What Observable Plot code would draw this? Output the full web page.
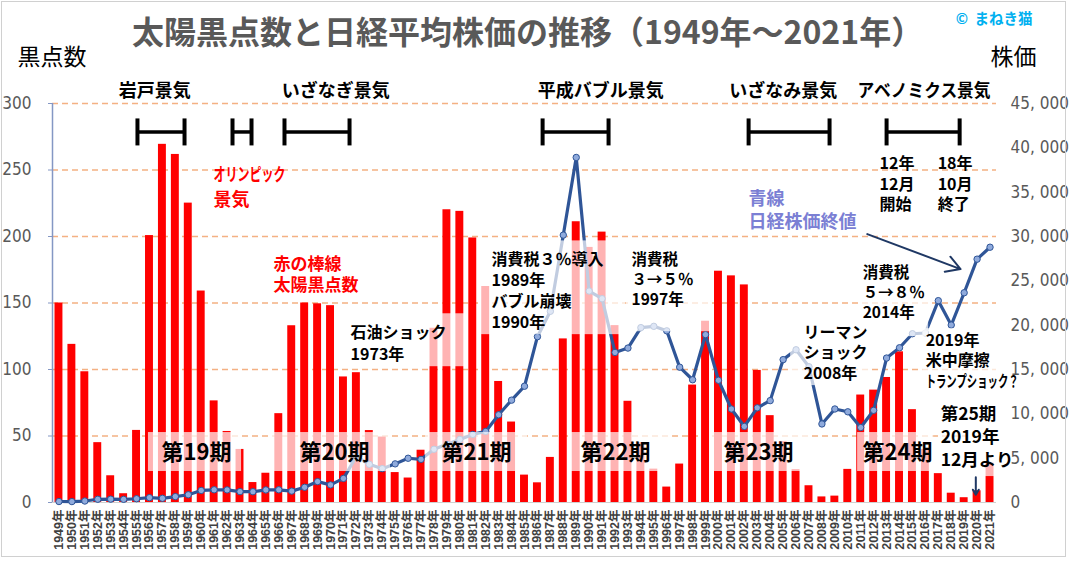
<!DOCTYPE html>
<html><head><meta charset="utf-8">
<script src="https://cdn.jsdelivr.net/npm/d3@7"></script>
<script src="https://cdn.jsdelivr.net/npm/@observablehq/plot@0.6"></script>
<style>
body{margin:0;background:#fff;}
#wrap{position:relative;width:1069px;height:562px;}
#border{position:absolute;left:1px;top:1px;width:1063px;height:554px;border:1px solid #d0d0d0;pointer-events:none;}
</style></head><body><div id="wrap"><div id="border"></div></div>
<script>
const years = d3.range(1949, 2022);
const sunspots = [150,118.9,98.3,45.0,20.1,6.6,54.2,200.7,269.3,261.7,225.1,159.0,76.4,53.4,39.9,15.0,22.0,66.8,132.9,150.0,149.4,148.0,94.4,97.6,54.1,49.2,22.5,18.4,39.3,131.0,220.1,218.9,198.9,162.4,91.0,60.5,20.6,14.8,33.9,123.0,211.1,191.8,203.3,133.0,76.1,44.9,25.1,11.6,28.9,88.3,136.3,173.9,170.4,163.6,99.3,65.3,45.8,24.7,12.6,4.2,4.8,24.9,80.8,84.5,94.0,113.3,69.8,39.8,21.7,7.0,3.6,8.8,29.6];
const nikkei = [109.91,101.91,166.06,362.64,377.95,356.09,425.69,549.14,474.55,666.54,874.88,1356.71,1432.60,1420.43,1225.10,1216.55,1417.83,1432.42,1283.47,1714.89,2358.96,1987.14,2713.74,5207.94,4306.80,3817.22,4358.60,4990.85,4865.60,6001.85,6569.47,7116.38,7681.84,8016.67,9893.82,11542.60,13113.32,18701.30,21564.00,30159.00,38915.87,23848.71,22983.77,16924.95,17417.24,19723.06,19868.15,19361.35,15258.74,13842.17,18934.34,13785.69,10542.62,8578.95,10676.64,11488.76,16111.43,17225.83,15307.78,8859.56,10546.44,10228.92,8455.35,10395.18,16291.31,17450.77,19033.71,19114.37,22764.94,20014.77,23656.62,27444.17,28791.71];
const leftTicks = [0,50,100,150,200,250,300];
const rightTicks = [0,5000,10000,15000,20000,25000,30000,35000,40000,45000];
const ratio = rightTicks[rightTicks.length-1] / leftTicks[leftTicks.length-1];

const booms = ["岩戸景気","いざなぎ景気","平成バブル景気","いざなみ景気","アベノミクス景気"];
const cycles = ["第19期","第20期","第21期","第22期","第23期","第24期"];

const spotData = years.map((y,i)=>({year:y, value:sunspots[i]}));
const priceData = years.map((y,i)=>({year:y, value:nikkei[i]/ratio}));

// annotation layout (x in years, y in left-axis units)
const boomLabelPos = [[1956.4,309.4],[1970.4,309.4],[1990.9,309.4],[2005.0,309.4],[2015.9,309.4]];
const brackets = [[1955.07,1958.71],[1962.42,1963.89],[1966.44,1971.47],[1986.40,1991.50],[2002.33,2008.59],[2013.0,2018.65]];
const cyclePos = [1959.64,1970.31,1981.29,1992.04,2003.10,2013.85];
const boxes = [
 [1955.92,1963.12,23.3,52.6],[1965.51,1974.64,23.3,52.6],[1977.35,1985.24,23.3,52.6],
 [1988.48,1996.45,23.3,52.6],[1999.54,2007.12,23.3,52.6],[2010.76,2016.64,23.3,52.6],
 [2017.33,2024.1,19.5,78.1],[1971.16,1980.52,102.1,141.9],[1981.60,1992.82,126.2,196.7],
 [1992.89,1999.54,128.4,189.2],[2005.58,2011.6,87.9,135.2],[2010.84,2016.25,124.7,183.2],
 [2015.79,2024.1,84.1,130.7]
].map(([x1,x2,y1,y2])=>({x1,x2,y1,y2}));

const blackNotes = [
 {x:1971.55,y:120.9,t:"石油ショック\n1973年",lh:1.38,fs:16},
 {x:1982.45,y:159.9,t:"消費税３％導入\n1989年\nバブル崩壊\n1990年",lh:1.3,fs:16},
 {x:1993.28,y:168.2,t:"消費税\n３→５％\n1997年",lh:1.3,fs:15.5},
 {x:2006.58,y:113.4,t:"リーマン\nショック\n2008年",lh:1.3,fs:16},
 {x:2011.15,y:158.4,t:"消費税\n５→８％\n2014年",lh:1.3,fs:15.5},
 {x:2016.02,y:107.4,t:"2019年\n米中摩擦\nトランプショック？",lh:1.3,fs:16},
 {x:2017.18,y:50.3,t:"第25期\n2019年\n12月より",lh:1.32,fs:17.5},
 {x:2012.46,y:240.3,t:"12年\n12月\n開始",lh:1.3,fs:16},
 {x:2016.95,y:240.3,t:"18年\n10月\n終了",lh:1.3,fs:16}
];
// horizontal squeeze of condensed (half-width style) strings, in px
const squeeze = {"オリンピック": 72, "アベノミクス景気": 133, "トランプショック？": 93};

const JP = "'Noto Sans CJK JP','Noto Sans',sans-serif";
const NARROW = "'Liberation Sans Narrow','DejaVu Sans Condensed',sans-serif";
const fmt = v => d3.format(",")(v).replace(",", ", ");

const x0 = years[0]-0.5, x1 = years[years.length-1]+0.5;

const chart = Plot.plot({
  width: 1069, height: 562,
  marginLeft: 52, marginRight: 73, marginTop: 103, marginBottom: 60,
  style: {fontFamily: JP, background: "transparent", overflow: "visible"},
  x: {type: "linear", domain: [x0, x1], axis: null},
  y: {domain: [leftTicks[0], leftTicks[leftTicks.length-1]], axis: null},
  marks: [
    Plot.ruleY(leftTicks.slice(1), {x1: x0, x2: x1, stroke: "#F4B183", strokeWidth: 1.3, strokeDasharray: "6,4"}),
    Plot.ruleY([0], {x1: x0, x2: x1, stroke: "#D0D0D0"}),
    Plot.rectY(spotData, {x1: d=>d.year-0.5, x2: d=>d.year+0.5, y: "value", fill: "#FF0000", insetLeft: 2.5, insetRight: 2.5}),
    Plot.line(priceData, {x: "year", y: "value", stroke: "#2F5597", strokeWidth: 3.2}),
    Plot.dot(priceData, {x: "year", y: "value", r: 3.2, fill: "#8FAADC", stroke: "#2F5597", strokeWidth: 1}),
    Plot.rect(boxes, {x1: "x1", x2: "x2", y1: "y1", y2: "y2", fill: "white", fillOpacity: 0.7}),
    Plot.ruleX([x0], {y1: leftTicks[0], y2: leftTicks[leftTicks.length-1], stroke: "#8497C4", strokeWidth: 1.5}),
    Plot.axisY({anchor: "left", ticks: leftTicks, tickSize: 4, tickPadding: 17, stroke: "#8497C4", fill: "#595959", fontSize: 17, fontFamily: NARROW, tickFormat: d=>String(d)}),
    Plot.axisY({anchor: "right", ticks: rightTicks.map(v=>v/ratio), tickSize: 0, tickPadding: 14, fill: "#595959", fontSize: 17, fontFamily: NARROW, tickFormat: d=>fmt(Math.round(d*ratio))}),
    Plot.axisX({anchor: "bottom", ticks: years, tickSize: 0, tickPadding: 7, tickRotate: -90, tickFormat: d=>d+"年", fill: "#404040", fontSize: 12.5, fontWeight: "bold", fontFamily: "'Liberation Sans','Noto Sans CJK JP',sans-serif"}),
    // brackets
    Plot.ruleY(brackets, {x1: d=>d[0], x2: d=>d[1], y: 278.6, stroke: "black", strokeWidth: 3.5}),
    Plot.ruleX(brackets.flat(), {x: d=>d, y1: 268.1, y2: 288.4, stroke: "black", strokeWidth: 4}),
    // boom labels
    Plot.text(booms, {x: (d,i)=>boomLabelPos[i][0], y: (d,i)=>boomLabelPos[i][1], text: d=>d, fontSize: 18, fontWeight: "bold", fill: "black"}),
    // cycle labels
    Plot.text(cycles, {x: (d,i)=>cyclePos[i], y: 37.5, text: d=>d, fontSize: 22, fontWeight: "bold", fill: "black"}),
    // black notes
    ...blackNotes.map(n => Plot.text([n], {x: "x", y: "y", text: "t", textAnchor: "start", lineAnchor: "middle", lineHeight: n.lh, fontSize: n.fs, fontWeight: "bold", fill: "black"})),
    Plot.text(["オリンピック\n景気"], {x: 1960.95, y: 238.4, text: d=>d, textAnchor: "start", lineAnchor: "middle", lineHeight: 1.39, fontSize: 18, fontWeight: "bold", fill: "#FF0000"}),
    Plot.text(["赤の棒線\n太陽黒点数"], {x: 1965.59, y: 172.3, text: d=>d, textAnchor: "start", lineAnchor: "middle", lineHeight: 1.25, fontSize: 17, fontWeight: "bold", fill: "#FF0000"}),
    Plot.text(["青線\n日経株価終値"], {x: 2002.33, y: 220.4, text: d=>d, textAnchor: "start", lineAnchor: "middle", lineHeight: 1.28, fontSize: 18, fontWeight: "bold", fill: "#7B7FD4"}),
    // arrows
    Plot.arrow([{x1: 2011.51, y1: 201.8, x2: 2018.72, y2: 175.5}], {x1: "x1", y1: "y1", x2: "x2", y2: "y2", stroke: "#1F3864", strokeWidth: 2, headLength: 12}),
    Plot.arrow([{x1: 2019.9, y1: 19.0, x2: 2019.9, y2: 5.8}], {x1: "x1", y1: "y1", x2: "x2", y2: "y2", stroke: "#1F3864", strokeWidth: 2, headLength: 7}),
    // titles
    Plot.text(["太陽黒点数と日経平均株価の推移（1949年～2021年）"], {x: 1985.24, y: 352.2, text: d=>d, fontSize: 32, fontWeight: "bold", fill: "#595959"}),
    Plot.text(["©  まねき猫"], {x: 2018.34, y: 363.4, text: d=>d, textAnchor: "start", fontSize: 14.5, fontWeight: "bold", fill: "#00B0F0"}),
    Plot.text(["黒点数"], {x: 1945.79, y: 334.2, text: d=>d, textAnchor: "start", fontSize: 23, fill: "black"}),
    Plot.text(["株価"], {x: 2021.04, y: 334.2, text: d=>d, textAnchor: "start", fontSize: 23, fill: "black"})
  ]
});
chart.querySelectorAll("text, tspan").forEach(el => {
  if (el.children.length === 0 && squeeze[el.textContent] !== undefined) {
    el.setAttribute("textLength", squeeze[el.textContent]);
    el.setAttribute("lengthAdjust", "spacingAndGlyphs");
  }
});
document.getElementById("wrap").appendChild(chart);
</script></body></html>
